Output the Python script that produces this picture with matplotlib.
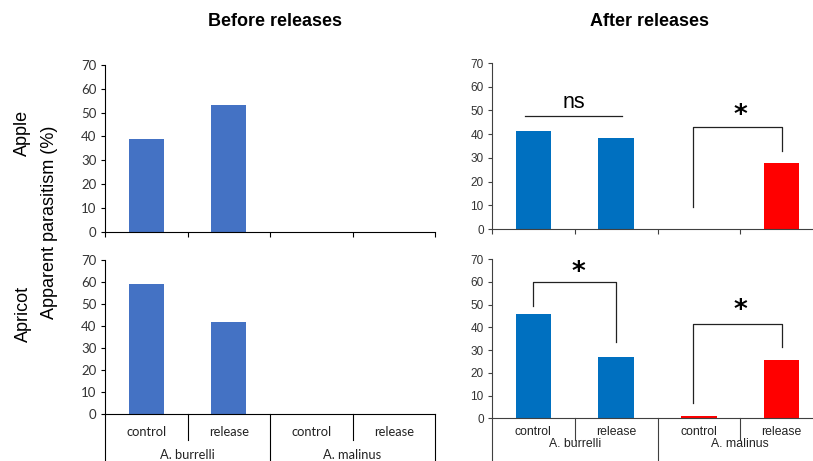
import matplotlib
matplotlib.use("Agg")
import matplotlib.pyplot as plt
import matplotlib.transforms as mtransforms

W, H = 813, 461

categories = ["control", "release", "control", "release"]
species = ["A. burrelli", "A. malinus"]
yticks = [0, 10, 20, 30, 40, 50, 60, 70]

# before releases (only A. burrelli was sampled)
before_apple = [39, 53, 0, 0]
before_apricot = [59, 42, 0, 0]
# after releases
after_apple = [41.5, 38.5, 0, 28]
after_apricot = [46, 27, 0.8, 25.5]

before_colors = ["#4472C4"] * 4
after_colors = ["#0070C0", "#0070C0", "#FF0000", "#FF0000"]

# significance annotations: (x_left, y_left_bottom, y_top, x_right, y_right_bottom, label_x, label_y)
apple_brackets = [(2.43, 9.4, 43, 3.5, 33, 3.0, 47.5)]
apricot_brackets = [(0.5, 49.5, 59.8, 1.5, 33.7, 1.05, 64.0),
                    (2.43, 6.6, 41.3, 3.5, 31.2, 3.0, 47.0)]
apple_ns = (0.40, 1.57, 47.8, 53.5)

LEFT_FONT = "Lato"
RIGHT_FONT = "Liberation Sans"


def px_axes(x0, y_top, x1, y_bot):
    return fig.add_axes([x0 / W, 1 - y_bot / H, (x1 - x0) / W, (y_bot - y_top) / H])


def style_axes(ax, font, color, fsize):
    for s in ["top", "right"]:
        ax.spines[s].set_visible(False)
    ax.spines["left"].set_color(color)
    ax.spines["bottom"].set_color(color)
    ax.set_ylim(0, 70)
    ax.set_xlim(0, 4)
    ax.set_yticks(yticks)
    ax.set_yticklabels([str(t) for t in yticks], fontfamily=font, fontsize=fsize, color="#333333")
    ax.tick_params(axis="y", length=3, width=0.8, color=color, pad=3)


def draw_bars(ax, values, colors):
    xs = [i + 0.5 for i in range(len(values))]
    ax.bar(xs, values, width=0.43, color=colors, zorder=2)


def top_xaxis(ax, color):
    ax.set_xticks([0, 1, 2, 3, 4])
    ax.set_xticklabels([])
    ax.tick_params(axis="x", direction="out", length=3.5, width=0.8, color=color)


def bottom_xaxis(ax, font, color, fsize, cat_y, grp_y):
    ax.set_xticks([])
    tr = mtransforms.blended_transform_factory(ax.transData, fig.transFigure)
    for x in [0, 2, 4]:
        ax.plot([x, x], [ax.get_position().y0, 0], transform=tr, color=color,
                lw=0.8, clip_on=False)
    for x in [1, 3]:
        ax.plot([x, x], [ax.get_position().y0, 1 - 440 / H], transform=tr,
                color=color, lw=0.8, clip_on=False)
    for i, c in enumerate(categories):
        ax.text(i + 0.5, 1 - cat_y / H, c, transform=tr, ha="center", va="center",
                fontfamily=font, fontsize=fsize, color="#222222")
    for i, s in enumerate(species):
        ax.text(2 * i + 1, 1 - grp_y / H, s, transform=tr, ha="center", va="center",
                fontfamily=font, fontsize=fsize, color="#222222")


def draw_bracket(ax, b):
    xl, yl, yt, xr, yr, lx, ly = b
    ax.plot([xl, xl, xr, xr], [yl, yt, yt, yr], color="#222222", lw=0.9, clip_on=False)
    ax.text(lx, ly, "*", ha="center", va="center", fontsize=19, fontweight="bold",
            fontfamily="DejaVu Sans")


fig = plt.figure(figsize=(W / 100, H / 100), dpi=100)

# before releases
ax_tl = px_axes(105, 65, 435, 231.7)
style_axes(ax_tl, LEFT_FONT, "black", 9.5)
draw_bars(ax_tl, before_apple, before_colors)
top_xaxis(ax_tl, "black")

ax_bl = px_axes(105, 260, 435, 414)
style_axes(ax_bl, LEFT_FONT, "black", 9.5)
draw_bars(ax_bl, before_apricot, before_colors)
bottom_xaxis(ax_bl, LEFT_FONT, "black", 9.3, 432, 455)

# after releases (axis runs past the right edge of the figure)
ax_tr = px_axes(492, 63, 823, 229)
style_axes(ax_tr, RIGHT_FONT, "#404040", 8.5)
draw_bars(ax_tr, after_apple, after_colors)
top_xaxis(ax_tr, "#404040")
for b in apple_brackets:
    draw_bracket(ax_tr, b)
x0, x1, yline, ytext = apple_ns
ax_tr.plot([x0, x1], [yline, yline], color="#222222", lw=0.9)
ax_tr.text((x0 + x1) / 2, ytext, "ns", ha="center", va="center", fontsize=15.5,
           fontfamily=RIGHT_FONT)

ax_br = px_axes(492, 259, 823, 418.3)
style_axes(ax_br, RIGHT_FONT, "#404040", 8.5)
draw_bars(ax_br, after_apricot, after_colors)
bottom_xaxis(ax_br, RIGHT_FONT, "#404040", 8.8, 432, 444)
for b in apricot_brackets:
    draw_bracket(ax_br, b)

# titles and row labels
fig.text(275 / W, 1 - 21 / H, "Before releases", ha="center", va="center",
         fontsize=13, fontweight="bold", fontfamily=RIGHT_FONT)
fig.text(649 / W, 1 - 21 / H, "After releases", ha="center", va="center",
         fontsize=13, fontweight="bold", fontfamily=RIGHT_FONT)
fig.text(22 / W, 1 - 133 / H, "Apple", rotation=90, ha="center", va="center",
         fontsize=13, fontfamily=RIGHT_FONT)
fig.text(23 / W, 1 - 314 / H, "Apricot", rotation=90, ha="center", va="center",
         fontsize=13, fontfamily=RIGHT_FONT)
fig.text(49 / W, 1 - 222 / H, "Apparent parasitism (%)", rotation=90, ha="center",
         va="center", fontsize=13, fontfamily=RIGHT_FONT)

fig.savefig("out.png", dpi=100)
